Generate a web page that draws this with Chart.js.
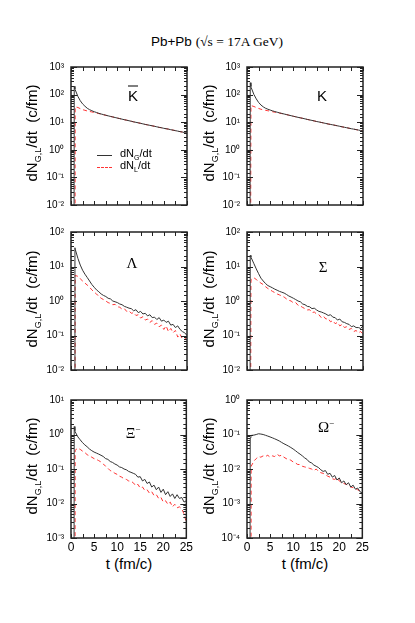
<!DOCTYPE html>
<html>
<head>
<meta charset="utf-8">
<script src="https://cdn.jsdelivr.net/npm/chart.js@4"></script>
<style>
  body { margin: 0; width: 415px; height: 623px; background: #fff; position: relative; overflow: hidden; font-family: "Liberation Sans", Arial, sans-serif; font-weight: normal; }
  canvas { position: absolute; }
  .lbl { position: absolute; white-space: nowrap; color: #000; }
  .ytitle { position: absolute; font-size: 15px; white-space: nowrap; transform: translate(-50%, -50%) rotate(-90deg); }
  .ytitle sub { font-size: 9px; }
  .serif { font-family: "Liberation Serif", "Times New Roman", serif; }
  .part { position: absolute; transform: translate(-50%, -50%); font-size: 15px; }
  .leg { position: absolute; font-size: 11px; white-space: nowrap; }
  .leg sub { font-size: 7px; }
</style>
</head>
<body>
<div class="lbl" style="left:217px; top:42px; transform:translate(-50%,-50%); font-size:13.5px;">Pb+Pb <span class="serif">(√s = 17A GeV)</span></div>

<canvas id="c0" width="164" height="167" style="left:31px; top:54px;"></canvas>
<canvas id="c1" width="164" height="167" style="left:207px; top:54px;"></canvas>
<canvas id="c2" width="164" height="167" style="left:31px; top:219px;"></canvas>
<canvas id="c3" width="164" height="167" style="left:207px; top:219px;"></canvas>
<canvas id="c4" width="164" height="167" style="left:31px; top:387px;"></canvas>
<canvas id="c5" width="164" height="167" style="left:207px; top:387px;"></canvas>

<div class="ytitle" style="left:33px; top:133px;">dN<sub>G,L</sub>/dt&nbsp; (c/fm)</div>
<div class="ytitle" style="left:210px; top:133px;">dN<sub>G,L</sub>/dt&nbsp; (c/fm)</div>
<div class="ytitle" style="left:33px; top:299px;">dN<sub>G,L</sub>/dt&nbsp; (c/fm)</div>
<div class="ytitle" style="left:210px; top:299px;">dN<sub>G,L</sub>/dt&nbsp; (c/fm)</div>
<div class="ytitle" style="left:33px; top:466px;">dN<sub>G,L</sub>/dt&nbsp; (c/fm)</div>
<div class="ytitle" style="left:210px; top:466px;">dN<sub>G,L</sub>/dt&nbsp; (c/fm)</div>

<div class="lbl" style="left:129px; top:563px; transform:translate(-50%,-50%); font-size:15px;">t (fm/c)</div>
<div class="lbl" style="left:305px; top:563px; transform:translate(-50%,-50%); font-size:15px;">t (fm/c)</div>

<div class="part" style="left:133px; top:95px;"><span style="text-decoration:overline">K</span></div>
<div class="part" style="left:322px; top:95px;">K</div>
<div class="part serif" style="left:132px; top:263px;">Λ</div>
<div class="part serif" style="left:323px; top:267px;">Σ</div>
<div class="part serif" style="left:133px; top:433px;">Ξ<sup style="font-size:9px">−</sup></div>
<div class="part serif" style="left:326px; top:427px;">Ω<sup style="font-size:9px">−</sup></div>

<div style="position:absolute; left:97px; top:155px; width:15px; border-top:1px solid #333;"></div>
<div class="leg" style="left:120px; top:147px;">dN<sub>G</sub>/dt</div>
<div style="position:absolute; left:97px; top:167px; width:15px; border-top:1px dashed #ff3333;"></div>
<div class="leg" style="left:120px; top:159px;">dN<sub>L</sub>/dt</div>

<script>
// time bins (fm/c)
const times = [0.6, 0.7, 0.85, 0.9, 1.5, 2, 2.5, 3, 3.5, 4, 4.5, 5, 5.5, 6, 6.5, 7, 7.5, 8, 8.5, 9, 9.5, 10,
  10.5, 11, 11.5, 12, 12.5, 13, 13.5, 14, 14.5, 15, 15.5, 16, 16.5, 17, 17.5, 18, 18.5, 19, 19.5, 20,
  20.5, 21, 21.5, 22, 22.5, 23, 23.5, 24, 24.5, 25];

// 1e-9 = below the axis (curve starts from the bottom)
const kbarG = [1e-9, 200, 160, 150, 85, 60, 46, 38, 32, 28.5, 26, 24, 22.5, 21, 19.8, 18.8, 17.9, 17, 16.2, 15.5, 14.8, 14.1,
  13.5, 12.9, 12.3, 11.8, 11.3, 10.8, 10.3, 9.9, 9.5, 9.1, 8.7, 8.3, 8, 7.7, 7.4, 7.1, 6.8, 6.5, 6.3, 6,
  5.8, 5.6, 5.35, 5.15, 4.95, 4.75, 4.55, 4.4, 4.2, 4.0];
const kbarL = [1e-9, 1e-9, 1e-9, 36, 34, 31, 28.5, 27, 25.5, 24.5, 23.5, 22.5, 21.5, 20.5, 19.5, 18.6, 17.8, 17, 16.2, 15.5, 14.8, 14.1,
  13.5, 12.9, 12.3, 11.8, 11.3, 10.8, 10.3, 9.9, 9.5, 9.1, 8.7, 8.3, 8, 7.7, 7.4, 7.1, 6.8, 6.5, 6.3, 6,
  5.8, 5.6, 5.35, 5.15, 4.95, 4.75, 4.55, 4.4, 4.2, 3.9];

const kG = [1e-9, 270, 200, 180, 100, 70, 52, 42, 36, 32, 29.5, 27.5, 25.8, 24.3, 23, 21.8, 20.8, 19.8, 18.9, 18, 17.2, 16.4,
  15.7, 15, 14.4, 13.8, 13.2, 12.6, 12.1, 11.6, 11.1, 10.6, 10.2, 9.8, 9.4, 9, 8.6, 8.3, 8, 7.7, 7.4, 7.1,
  6.8, 6.55, 6.3, 6.05, 5.8, 5.6, 5.4, 5.2, 5, 4.8];
const kL = [1e-9, 1e-9, 40, 40, 37, 34, 31.5, 29.5, 28, 27, 26, 25, 24, 23, 22.2, 21.3, 20.5, 19.7, 18.9, 18, 17.2, 16.4,
  15.7, 15, 14.4, 13.8, 13.2, 12.6, 12.1, 11.6, 11.1, 10.6, 10.2, 9.8, 9.4, 9, 8.6, 8.3, 8, 7.7, 7.4, 7.1,
  6.8, 6.55, 6.3, 6.05, 5.8, 5.6, 5.4, 5.2, 5, 4.7];

const lamG = [1e-9, 1e-9, 35, 32, 17, 11, 7.8, 6, 4.8, 3.8, 3.0, 2.5, 2.1, 1.85, 1.6, 1.45, 1.35, 1.2, 1.15, 1.0, 0.95, 0.9,
  0.82, 0.78, 0.7, 0.66, 0.62, 0.6, 0.52, 0.56, 0.46, 0.5, 0.42, 0.44, 0.37, 0.4, 0.33, 0.34, 0.29, 0.33, 0.26, 0.28,
  0.24, 0.26, 0.2, 0.21, 0.17, 0.19, 0.15, 0.13, 0.12, 0.1];
const lamL = [1e-9, 1e-9, 1e-9, 5.5, 5.2, 4.4, 3.8, 3.3, 2.9, 2.5, 2.1, 1.8, 1.6, 1.35, 1.2, 1.1, 1.0, 0.9, 0.85, 0.78, 0.8, 0.68,
  0.66, 0.58, 0.6, 0.5, 0.52, 0.44, 0.46, 0.38, 0.4, 0.32, 0.35, 0.28, 0.3, 0.24, 0.27, 0.21, 0.23, 0.18, 0.2, 0.15,
  0.19, 0.13, 0.16, 0.12, 0.14, 0.09, 0.11, 0.08, 0.09, 0.065];

const sigG = [1e-9, 21, 19, 18, 12, 8.5, 6.2, 4.6, 3.8, 3.2, 2.8, 2.6, 2.4, 2.2, 2.05, 1.9, 1.8, 1.7, 1.55, 1.4, 1.3, 1.2,
  1.1, 1.0, 0.95, 0.82, 0.78, 0.7, 0.68, 0.6, 0.62, 0.55, 0.5, 0.48, 0.45, 0.42, 0.38, 0.4, 0.34, 0.33, 0.28, 0.3,
  0.25, 0.24, 0.22, 0.21, 0.18, 0.19, 0.17, 0.17, 0.16, 0.19];
const sigL = [1e-9, 1e-9, 3.5, 4.2, 4.7, 4.2, 3.7, 3.3, 3.0, 2.6, 2.3, 2.1, 1.9, 1.75, 1.6, 1.5, 1.4, 1.3, 1.15, 1.05, 1.0, 0.88,
  0.9, 0.75, 0.72, 0.65, 0.6, 0.55, 0.56, 0.46, 0.48, 0.42, 0.4, 0.33, 0.36, 0.3, 0.31, 0.25, 0.27, 0.22, 0.24, 0.19,
  0.21, 0.17, 0.18, 0.15, 0.16, 0.13, 0.14, 0.12, 0.13, 0.11];

const xiG = [1e-9, 1.7, 1.3, 1.2, 0.85, 0.7, 0.58, 0.5, 0.44, 0.38, 0.34, 0.31, 0.29, 0.27, 0.25, 0.23, 0.2, 0.19, 0.165, 0.155, 0.14, 0.13,
  0.115, 0.11, 0.1, 0.095, 0.085, 0.08, 0.075, 0.07, 0.058, 0.06, 0.045, 0.05, 0.038, 0.042, 0.03, 0.034, 0.025, 0.03, 0.021, 0.026,
  0.018, 0.022, 0.016, 0.019, 0.014, 0.018, 0.014, 0.015, 0.011, 0.012];
const xiL = [1e-9, 1e-9, 1e-9, 0.35, 0.4, 0.37, 0.33, 0.3, 0.26, 0.24, 0.22, 0.2, 0.19, 0.175, 0.16, 0.14, 0.12, 0.105, 0.09, 0.085, 0.075, 0.07,
  0.062, 0.058, 0.052, 0.05, 0.045, 0.044, 0.04, 0.033, 0.036, 0.028, 0.03, 0.024, 0.025, 0.02, 0.022, 0.017, 0.018, 0.014, 0.015, 0.011,
  0.012, 0.0095, 0.011, 0.008, 0.0095, 0.0075, 0.008, 0.007, 0.005, 0.0028];

const omG = [1e-9, 0.08, 0.092, 0.094, 0.096, 0.1, 0.105, 0.103, 0.1, 0.095, 0.09, 0.085, 0.08, 0.075, 0.07, 0.065, 0.059, 0.054, 0.05, 0.046, 0.042, 0.038,
  0.034, 0.03, 0.027, 0.024, 0.021, 0.019, 0.016, 0.015, 0.013, 0.012, 0.011, 0.0095, 0.0085, 0.009, 0.007, 0.0075, 0.0058, 0.0065, 0.0048, 0.0055,
  0.004, 0.0045, 0.0035, 0.004, 0.003, 0.0034, 0.0026, 0.0028, 0.0022, 0.002];
const omL = [1e-9, 1e-9, 1e-9, 0.012, 0.017, 0.02, 0.023, 0.022, 0.024, 0.023, 0.025, 0.022, 0.024, 0.023, 0.027, 0.024, 0.025, 0.022, 0.02, 0.019, 0.018, 0.016,
  0.015, 0.0135, 0.0135, 0.012, 0.0115, 0.011, 0.0105, 0.01, 0.009, 0.01, 0.0085, 0.0078, 0.0075, 0.0068, 0.0062, 0.0058, 0.0052, 0.005, 0.0056, 0.0045,
  0.004, 0.0038, 0.0036, 0.0034, 0.003, 0.0029, 0.0027, 0.0025, 0.0023, 0.0022];

// y ranges per panel
const yMins = [1e-2, 1e-2, 1e-2, 1e-2, 1e-3, 1e-4];
const yMaxs = [1e3, 1e3, 1e2, 1e2, 1e1, 1e0];
const gSeries = [kbarG, kG, lamG, sigG, xiG, omG];
const lSeries = [kbarL, kL, lamL, sigL, xiL, omL];

const sup = { "-": "⁻", "0": "⁰", "1": "¹", "2": "²", "3": "³", "4": "⁴" };
function powLabel(v) {
  const e = Math.round(Math.log10(v));
  if (Math.abs(Math.log10(v) - e) > 1e-6) return "";
  return "10" + String(e).split("").map((c) => sup[c]).join("");
}

// inward tick marks on all four sides + frame
const frameTicks = {
  id: "frameTicks",
  afterDraw(chart) {
    const { ctx, chartArea: a, scales } = chart;
    ctx.save();
    ctx.strokeStyle = "#222";
    ctx.lineWidth = 1;
    ctx.beginPath();
    scales.x.ticks.forEach((t) => {
      const px = Math.round(scales.x.getPixelForValue(t.value)) + 0.5;
      ctx.moveTo(px, a.bottom); ctx.lineTo(px, a.bottom - 4);
      ctx.moveTo(px, a.top); ctx.lineTo(px, a.top + 4);
    });
    scales.y.ticks.forEach((t) => {
      const py = Math.round(scales.y.getPixelForValue(t.value)) + 0.5;
      const len = powLabel(t.value) ? 6 : 3;
      ctx.moveTo(a.left, py); ctx.lineTo(a.left + len, py);
      ctx.moveTo(a.right, py); ctx.lineTo(a.right - len, py);
    });
    ctx.stroke();
    ctx.lineWidth = 1.5;
    ctx.strokeRect(a.left, a.top, a.right - a.left, a.bottom - a.top);
    ctx.restore();
  },
};

function drawPanel(i) {
  const ctx = document.getElementById("c" + i).getContext("2d");
  const bottomRow = i >= 4;
  new Chart(ctx, {
    type: "line",
    data: {
      datasets: [
        {
          label: "dN_G/dt",
          data: times.map((t, k) => ({ x: t, y: gSeries[i][k] })),
          borderColor: "#333",
          borderWidth: 1,
          pointRadius: 0,
          fill: false,
        },
        {
          label: "dN_L/dt",
          data: times.map((t, k) => ({ x: t, y: lSeries[i][k] })),
          borderColor: "#ff3333",
          borderWidth: 1,
          borderDash: [4, 3],
          pointRadius: 0,
          fill: false,
        },
      ],
    },
    options: {
      responsive: false,
      animation: false,
      layout: { padding: { top: 8, right: 8, left: 0, bottom: 0 } },
      plugins: { legend: { display: false }, tooltip: { enabled: false } },
      scales: {
        x: {
          type: "linear",
          min: 0,
          max: 25,
          grid: { display: false, drawTicks: false },
          border: { display: false },
          afterFit: (s) => { s.height = 16; },
          ticks: {
            display: bottomRow,
            stepSize: 2.5,
            autoSkip: false,
            maxRotation: 0,
            padding: 2,
            color: "#000",
            font: { family: "Liberation Sans", size: 12 },
            callback: (v) => (v % 5 === 0 ? String(v) : ""),
          },
        },
        y: {
          type: "logarithmic",
          min: yMins[i],
          max: yMaxs[i],
          grid: { display: false, drawTicks: false },
          border: { display: false },
          afterFit: (s) => { s.width = 40; },
          ticks: {
            autoSkip: false,
            padding: 7,
            color: "#000",
            font: { family: "Liberation Sans", size: 10 },
            callback: (v) => powLabel(v),
          },
        },
      },
    },
    plugins: [frameTicks],
  });
}

for (let i = 0; i < 6; i++) drawPanel(i);
</script>
</body>
</html>
